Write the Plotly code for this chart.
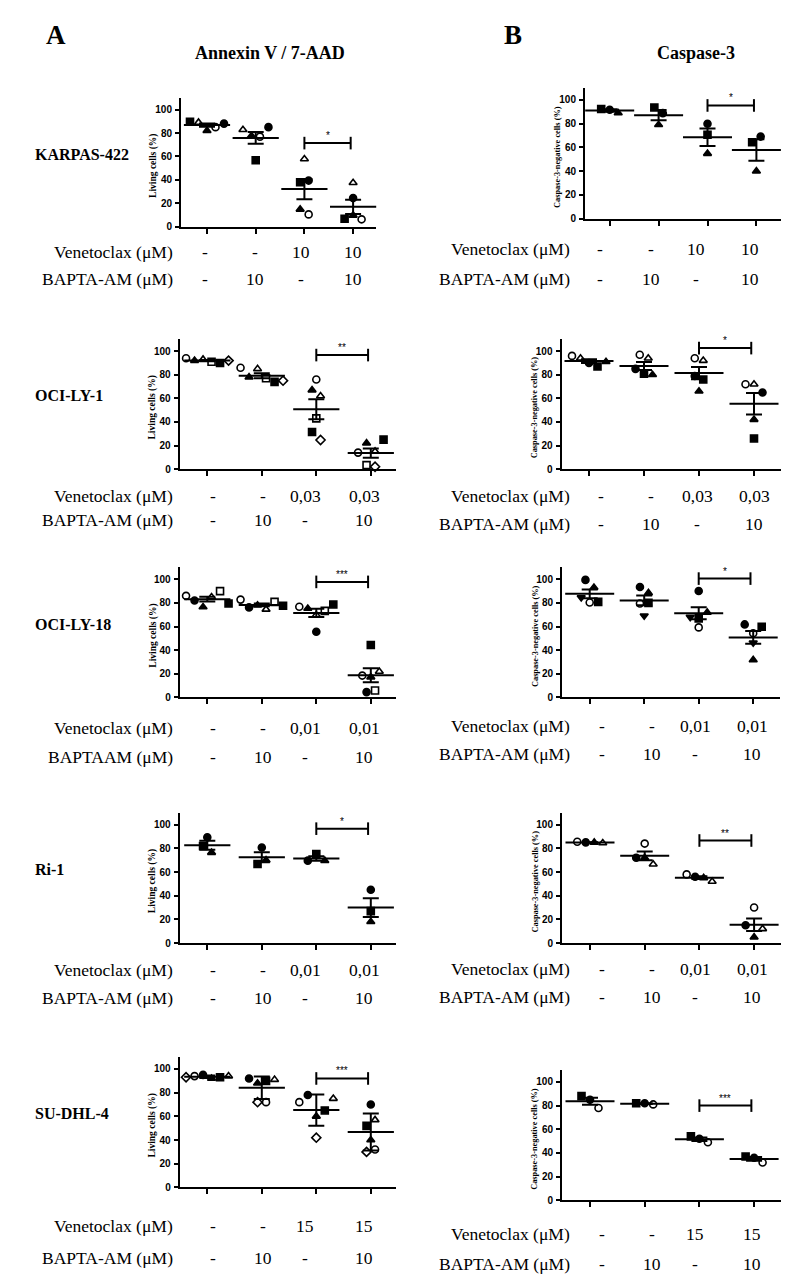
import numpy as np
import plotly.graph_objects as go

W, H = 795, 1274

# ---------------- data ----------------
# treatment groups (x categories): control, BAPTA-AM, venetoclax, venetoclax + BAPTA-AM
groups = [0, 1, 2, 3]

cell_lines = ["KARPAS-422", "OCI-LY-1", "OCI-LY-18", "Ri-1", "SU-DHL-4"]
ven_doses = ["10", "0,03", "0,01", "0,01", "15"]
bapta_row = ["-", "10", "-", "10"]
bapta_labels_a = ["BAPTA-AM (μM)", "BAPTA-AM (μM)", "BAPTAAM (μM)", "BAPTA-AM (μM)", "BAPTA-AM (μM)"]
bapta_labels_b = ["BAPTA-AM (μM)"] * 5

# Annexin V / 7-AAD (living cells %), one list per group, one value per donor
karpas_av_sym = ["square", "triangle-up-open", "triangle-up", "circle-open", "circle"]
karpas_av = [[89.6, 89, 82, 85, 88], [56.8, 82.8, 77.7, 76.9, 85],
             [38.1, 57.9, 15, 10.7, 39.5], [7, 37.6, 9.9, 6.5, 24.6]]
ocily1_av_sym = ["circle-open", "triangle-up", "triangle-up-open", "square-open", "square", "diamond-open"]
ocily1_av = [[94, 92, 93, 91, 90, 92], [86, 78, 85, 77, 74, 75],
             [76, 67, 62, 43, 31.5, 24.7], [14, 22, 15, 3.4, 25, 2]]
ocily18_av_sym = ["circle-open", "circle", "triangle-up", "triangle-up-open", "square-open", "square"]
ocily18_av = [[86, 82, 76.6, 85, 90, 79.5], [82.8, 76.2, 78, 74.5, 80.9, 77.6],
              [76.7, 55.6, 75.3, 69.7, 73.3, 78.7], [18.5, 4.5, 17.2, 22, 5.9, 44.4]]
ri1_av_sym = ["circle", "square", "triangle-up"]
ri1_av = [[89.3, 82, 76.4], [80.7, 66.7, 70], [69.6, 75.2, 69.6], [45, 27, 18]]
sudhl4_av_sym = ["diamond-open", "circle-open", "circle", "triangle-up", "square", "triangle-up-open"]
sudhl4_av = [[93, 94, 95, 92, 93, 94], [72, 72, 92, 88, 90, 91],
             [42, 72, 78, 60, 65, 75], [30, 32, 70, 40, 52, 57]]

# Caspase-3 (caspase-3-negative cells %)
karpas_c3_sym = ["square", "circle", "triangle-up"]
karpas_c3 = [[92.3, 91.7, 89], [93.6, 88.8, 79], [70.7, 79.9, 54.8], [64.3, 69.1, 40]]
ocily1_c3_sym = ["circle-open", "triangle-up-open", "circle", "square", "triangle-up"]
ocily1_c3 = [[96, 94, 90, 87, 91], [97, 94, 85, 81, 80], [94, 92, 79, 76, 66], [72, 72, 65, 26, 42]]
ocily18_c3_sym = ["circle", "triangle-down", "circle-open", "square", "triangle-up"]
ocily18_c3 = [[99.5, 84.6, 80.4, 80.9, 93], [93.5, 69.1, 79.5, 80, 88.5],
              [90.1, 68, 59.3, 66.9, 72], [61.8, 46.3, 54.3, 59.8, 31.8]]
ri1_c3_sym = ["circle-open", "circle", "triangle-up", "triangle-up-open"]
ri1_c3 = [[85.5, 85, 85, 84.5], [84, 72, 72, 66.6], [58, 56, 55, 52], [30, 15, 5, 12]]
sudhl4_c3_sym = ["square", "circle", "circle-open"]
sudhl4_c3 = [[88, 85, 78], [82, 82, 81], [54, 52, 49], [37, 36, 32]]

# error-bar type per cell line (the SU-DHL-4 Annexin panel shows SD, others SEM)
err_av = ["sem", "sem", "sem", "sem", "sd"]
err_c3 = ["sem", "sem", "sem", "sem", "sem"]

# significance brackets (venetoclax vs venetoclax + BAPTA-AM)
sig_av = ["*", "**", "***", "*", "***"]
sig_av_y = [71.4, 96.7, 97.8, 96.6, 92]
sig_c3 = ["*", "*", "*", "**", "***"]
sig_c3_y = [95.3, 102.6, 100.6, 86.6, 80]

y_ticks = [0, 20, 40, 60, 80, 100]

# ---------------- layout geometry (pixels) ----------------
geo_a = [
    dict(xl=173, xr=368, c0=199, dx=48.7, y0=220, k=1.18, ven=245, bap=272, cols=[197, 247, 293, 345]),
    dict(xl=171.7, xr=388, c0=199.3, dx=54.5, y0=463.3, k=1.185, ven=490, bap=514, cols=[205, 255, 297, 356]),
    dict(xl=171.7, xr=388, c0=199.3, dx=54.5, y0=692.7, k=1.187, ven=723, bap=753, cols=[205, 255, 297, 356]),
    dict(xl=171.7, xr=388, c0=199.3, dx=54.5, y0=939.5, k=1.19, ven=967, bap=995, cols=[205, 255, 297, 356]),
    dict(xl=171.7, xr=388, c0=199.3, dx=54.5, y0=1185, k=1.19, ven=1224, bap=1256, cols=[205, 255, 297, 356]),
]
geo_b = [
    dict(xl=577, xr=773, c0=601.7, dx=48.9, y0=211.7, k=1.194, ven=242, bap=272, cols=[592, 643, 688, 742]),
    dict(xl=553.5, xr=773, c0=581, dx=55, y0=463.3, k=1.185, ven=490, bap=518, cols=[593, 643, 689, 746]),
    dict(xl=554, xr=772, c0=581.7, dx=54.5, y0=692.7, k=1.187, ven=721, bap=750, cols=[594, 644, 687, 744]),
    dict(xl=554, xr=773, c0=582, dx=54.7, y0=939.5, k=1.19, ven=966, bap=994, cols=[594, 644, 687, 744]),
    dict(xl=554, xr=773, c0=582, dx=54.7, y0=1198, k=1.19, ven=1232, bap=1262, cols=[594, 644, 687, 744]),
]

SERIF = "Liberation Serif"
SANS = "Liberation Sans"
TABLE_SIZE = 17.5


def fx(px):
    return px / W


def fy(py):
    return 1 - py / H


def spread(values, k, dx, mpx=8.5):
    vals = np.asarray(values, float)
    order = np.argsort(-vals, kind="stable")
    offs = np.zeros(len(vals))
    clusters, cur = [], [order[0]]
    for j in order[1:]:
        if abs(vals[cur[-1]] - vals[j]) * k < mpx:
            cur.append(j)
        else:
            clusters.append(cur)
            cur = [j]
    clusters.append(cur)
    for c in clusters:
        m = len(c)
        for r, j in enumerate(sorted(c)):
            offs[j] = (r - (m - 1) / 2) * mpx / dx
    return offs


fig = go.Figure()
layout = dict(width=W, height=H, margin=dict(l=0, r=0, t=0, b=0),
              paper_bgcolor="white", plot_bgcolor="white", showlegend=False)
annotations = []

panels = []
av_sets = [(karpas_av, karpas_av_sym), (ocily1_av, ocily1_av_sym), (ocily18_av, ocily18_av_sym),
           (ri1_av, ri1_av_sym), (sudhl4_av, sudhl4_av_sym)]
c3_sets = [(karpas_c3, karpas_c3_sym), (ocily1_c3, ocily1_c3_sym), (ocily18_c3, ocily18_c3_sym),
           (ri1_c3, ri1_c3_sym), (sudhl4_c3, sudhl4_c3_sym)]
for r in range(5):
    panels.append(dict(g=geo_a[r], data=av_sets[r][0], sym=av_sets[r][1], sig=sig_av[r], sig_y=sig_av_y[r],
                       err=err_av[r], side="A", row=r, ytitle="Living cells (%)", tsize=9.5, mw=33))
    panels.append(dict(g=geo_b[r], data=c3_sets[r][0], sym=c3_sets[r][1], sig=sig_c3[r], sig_y=sig_c3_y[r],
                       err=err_c3[r], side="B", row=r, ytitle="Caspase-3-negative cells (%)", tsize=8.3, mw=35))

YMAX = 110
for i, p in enumerate(panels):
    n = i + 1
    g = p["g"]
    xname = "x" if n == 1 else f"x{n}"
    yname = "y" if n == 1 else f"y{n}"
    xkey = "xaxis" if n == 1 else f"xaxis{n}"
    ykey = "yaxis" if n == 1 else f"yaxis{n}"
    ytop = g["y0"] - YMAX * g["k"]
    layout[xkey] = dict(domain=[fx(g["xl"]), fx(g["xr"])],
                        range=[(g["xl"] - g["c0"]) / g["dx"], (g["xr"] - g["c0"]) / g["dx"]],
                        anchor=yname, showline=True, linecolor="black", linewidth=2,
                        ticks="outside", ticklen=5, tickwidth=2, tickcolor="black",
                        tickvals=groups, showticklabels=False, showgrid=False, zeroline=False)
    layout[ykey] = dict(domain=[fy(g["y0"]), fy(ytop)], range=[0, YMAX], anchor=xname,
                        showline=True, linecolor="black", linewidth=2,
                        ticks="outside", ticklen=4, tickwidth=1.5, tickcolor="black",
                        tickvals=y_ticks, ticklabelstandoff=1,
                        tickfont=dict(family=SANS, size=10, color="black", weight="bold"),
                        showgrid=False, zeroline=False)

    data = p["data"]
    means = [float(np.mean(v)) for v in data]
    if p["err"] == "sd":
        errs = [float(np.std(v, ddof=1)) for v in data]
    else:
        errs = [float(np.std(v, ddof=1) / np.sqrt(len(v))) for v in data]

    # mean line + error bar
    fig.add_trace(go.Scatter(x=groups, y=means, mode="markers", xaxis=xname, yaxis=yname,
                             cliponaxis=False, hoverinfo="skip",
                             marker=dict(symbol="line-ew", size=p["mw"], color="black",
                                         line=dict(width=2, color="black")),
                             error_y=dict(type="data", array=errs, visible=True, color="black",
                                          thickness=2, width=8)))
    # individual donors
    xs, ys, ss = [], [], []
    for gi, vals in enumerate(data):
        offs = spread(vals, g["k"], g["dx"])
        for j, v in enumerate(vals):
            xs.append(gi + offs[j])
            ys.append(v)
            ss.append(p["sym"][j])
    fig.add_trace(go.Scatter(x=xs, y=ys, mode="markers", xaxis=xname, yaxis=yname,
                             cliponaxis=False, hoverinfo="skip",
                             marker=dict(symbol=ss, size=7, color="black",
                                         line=dict(width=1.6, color="black"))))
    # significance bracket
    fig.add_trace(go.Scatter(x=[2, 2.95], y=[p["sig_y"], p["sig_y"]], mode="lines+markers",
                             xaxis=xname, yaxis=yname, cliponaxis=False, hoverinfo="skip",
                             line=dict(color="black", width=2),
                             marker=dict(symbol="line-ns", size=9, color="black",
                                         line=dict(width=2, color="black"))))
    annotations.append(dict(xref=xname, yref=yname, x=2.475, y=p["sig_y"], yanchor="bottom",
                            text=p["sig"], showarrow=False, yshift=0,
                            font=dict(family=SANS, size=10, color="black")))
    # y-axis title
    annotations.append(dict(xref="paper", yref="paper", x=fx(g["xl"] - 27),
                            y=fy(g["y0"] - 52 * g["k"]), text=f"<b>{p['ytitle']}</b>",
                            textangle=-90, showarrow=False, xanchor="center", yanchor="middle",
                            font=dict(family=SERIF, size=p["tsize"], color="black")))
    # treatment table
    r = p["row"]
    lab_right = 167 if p["side"] == "A" else 564
    bap_label = bapta_labels_a[r] if p["side"] == "A" else bapta_labels_b[r]
    ven_row = ["-", "-", ven_doses[r], ven_doses[r]]
    for txt, yy in (("Venetoclax (μM)", g["ven"]), (bap_label, g["bap"])):
        annotations.append(dict(xref="paper", yref="paper", x=fx(lab_right), y=fy(yy),
                                xanchor="right", yanchor="middle", text=txt, showarrow=False,
                                font=dict(family=SERIF, size=TABLE_SIZE, color="black")))
    for row_vals, yy in ((ven_row, g["ven"]), (bapta_row, g["bap"])):
        for cx, t in zip(g["cols"], row_vals):
            annotations.append(dict(xref="paper", yref="paper", x=fx(cx), y=fy(yy),
                                    xanchor="center", yanchor="middle", text=t, showarrow=False,
                                    font=dict(family=SERIF, size=TABLE_SIZE, color="black")))
    # cell-line label
    if p["side"] == "A":
        annotations.append(dict(xref="paper", yref="paper", x=fx(25), y=fy(g["y0"] - 62 * g["k"]),
                                xanchor="left", yanchor="middle", text=f"<b>{cell_lines[r]}</b>",
                                showarrow=False, font=dict(family=SERIF, size=16, color="black")))

# headers
for txt, x, y, s in (("A", 48, 27, 27), ("B", 505, 27, 27),
                     ("Annexin V / 7-AAD", 262, 45, 18), ("Caspase-3", 688, 45, 18)):
    annotations.append(dict(xref="paper", yref="paper", x=fx(x), y=fy(y), xanchor="center",
                            yanchor="middle", text=f"<b>{txt}</b>", showarrow=False,
                            font=dict(family=SERIF, size=s, color="black")))

layout["annotations"] = annotations
fig.update_layout(**layout)
fig.write_html("out.html")
